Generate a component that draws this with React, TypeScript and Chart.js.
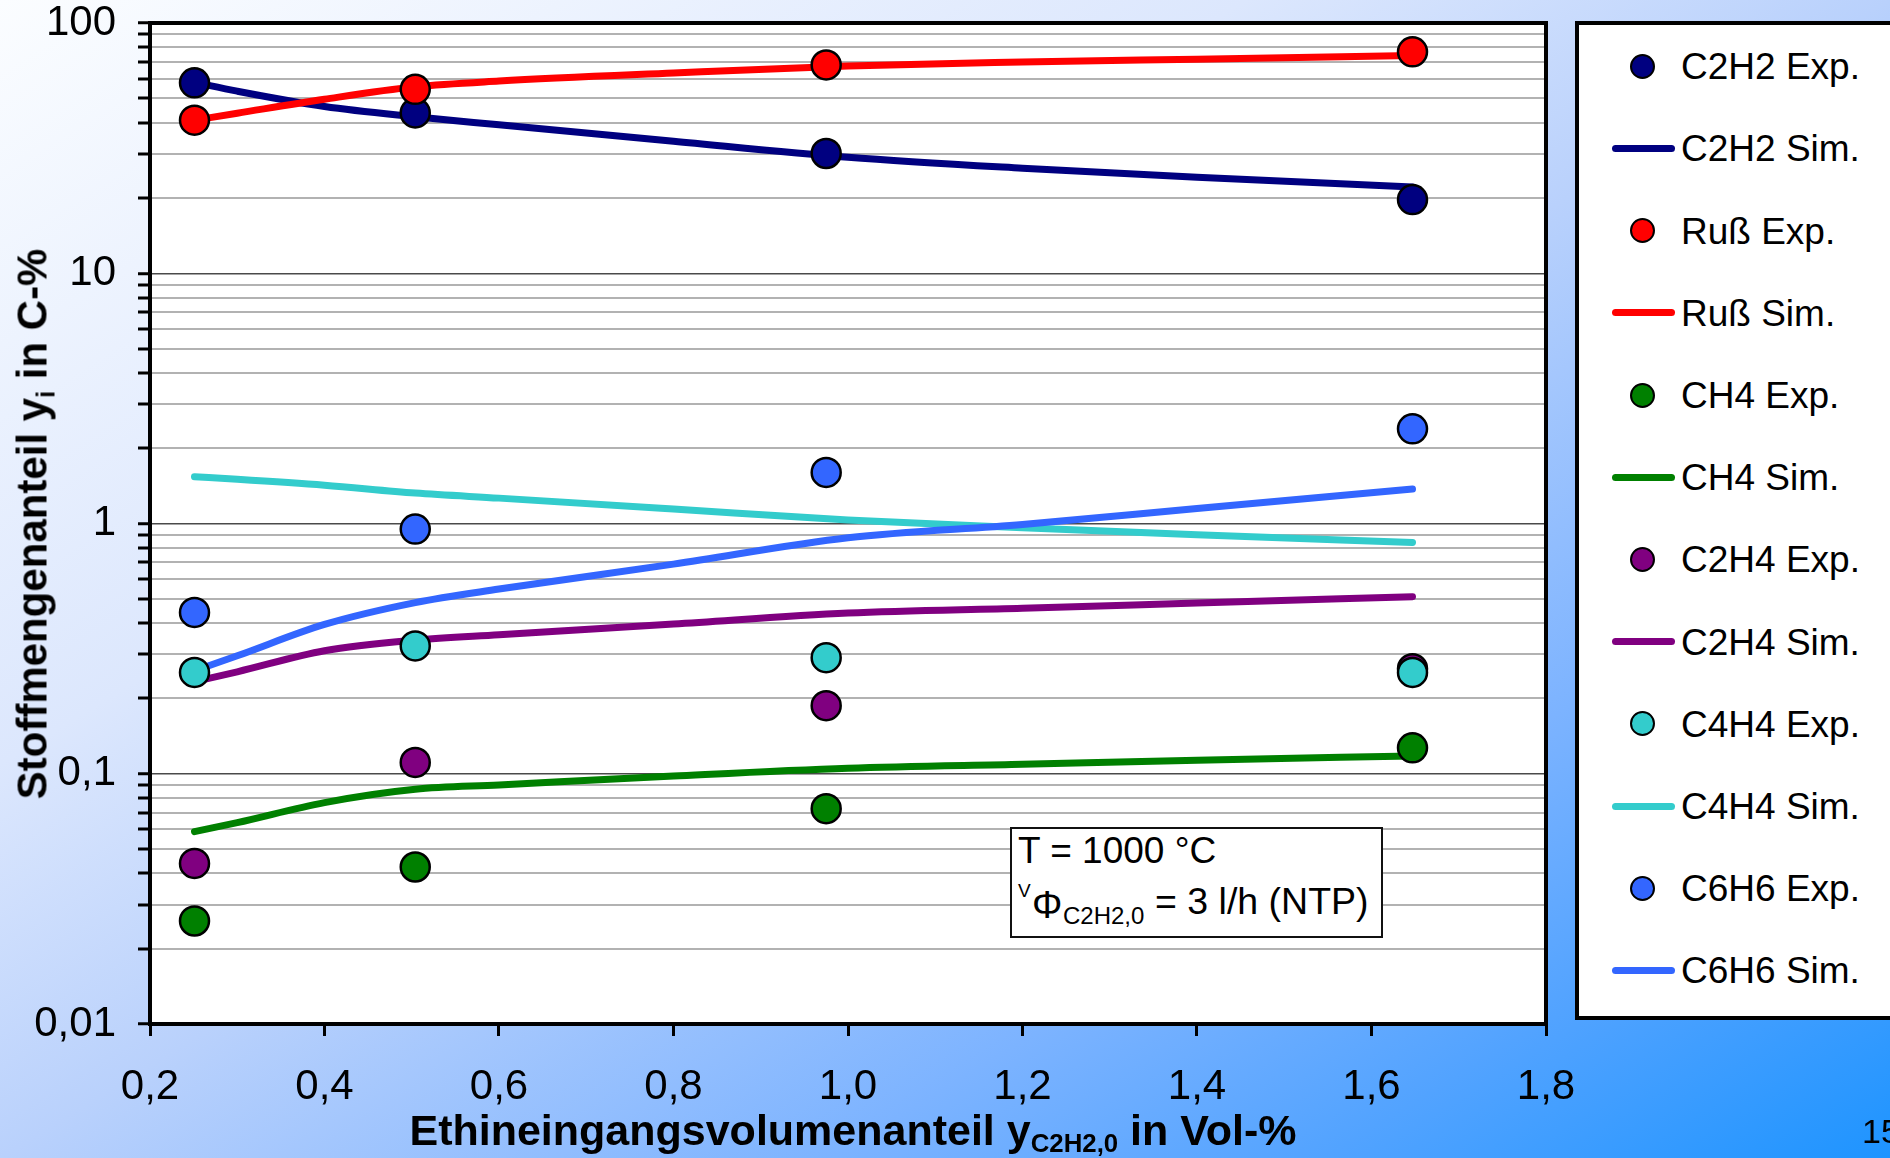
import React, { useEffect, useRef } from 'react';
import { Chart, registerables } from 'chart.js';

Chart.register(...registerables);

// ---------- data ----------
const expX = [0.251, 0.504, 0.975, 1.647];
const simX = [0.251, 0.3, 0.4, 0.504, 0.6, 0.8, 1.0, 1.2, 1.4, 1.647];

const c2h2Exp = [57.7, 43.7, 30.1, 19.7];
const c2h2Sim = [57.9, 53.4, 46.4, 42.2, 39.2, 33.7, 29.1, 26.3, 24.2, 22.1];
const russExp = [40.9, 54.3, 68.0, 76.7];
const russSim = [40.9, 43.6, 49.6, 55.6, 58.6, 63.1, 67.3, 69.8, 71.7, 74.1];
const ch4Exp = [0.0258, 0.0424, 0.0725, 0.127];
const ch4Sim = [0.0587, 0.0638, 0.0767, 0.0867, 0.0902, 0.098, 0.1053, 0.1092, 0.1133, 0.1178];
const c2h4Exp = [0.0438, 0.111, 0.187, 0.263];
const c2h4Sim = [0.2336, 0.2555, 0.3101, 0.342, 0.3594, 0.3966, 0.439, 0.4588, 0.4812, 0.5102];
const c4h4Exp = [0.254, 0.324, 0.291, 0.254];
const c4h4Sim = [1.538, 1.503, 1.423, 1.323, 1.263, 1.143, 1.033, 0.962, 0.902, 0.840];
const c6h6Exp = [0.441, 0.950, 1.60, 2.39];
const c6h6Sim = [0.258, 0.296, 0.395, 0.483, 0.547, 0.688, 0.877, 0.991, 1.148, 1.374];

const seriesNames = ['C2H2', 'Ruß', 'CH4', 'C2H4', 'C4H4', 'C6H6'];
const expSeries = [c2h2Exp, russExp, ch4Exp, c2h4Exp, c4h4Exp, c6h6Exp];
const simSeries = [c2h2Sim, russSim, ch4Sim, c2h4Sim, c4h4Sim, c6h6Sim];
const seriesColors = ['#000080', '#ff0000', '#008000', '#800080', '#33cccc', '#3366ff'];

const xTicks = [0.2, 0.4, 0.6, 0.8, 1.0, 1.2, 1.4, 1.6, 1.8];
const xTickLabels = ['0,2', '0,4', '0,6', '0,8', '1,0', '1,2', '1,4', '1,6', '1,8'];
const yMajorTicks = [0.01, 0.1, 1, 10, 100];
const yMajorLabels = ['0,01', '0,1', '1', '10', '100'];
const yMinorMultipliers = [2, 3, 4, 5, 6, 7, 8, 9];

const FONT = '"Liberation Sans", Arial, Helvetica, sans-serif';

// ---------- derived structures for the library ----------
const yGridTicks: number[] = [];
yMajorTicks.forEach((d, i) => {
  yGridTicks.push(d);
  if (i < yMajorTicks.length - 1) yMinorMultipliers.forEach((m) => yGridTicks.push(d * m));
});

type LegendEntry = { label: string; color: string; kind: 'exp' | 'sim' };
const legendEntries: LegendEntry[] = [];
const datasets: any[] = [];
seriesNames.forEach((name, s) => {
  const color = seriesColors[s];
  const expIdx = s * 2;
  const simIdx = s * 2 + 1;
  legendEntries.push({ label: `${name} Exp.`, color, kind: 'exp' });
  legendEntries.push({ label: `${name} Sim.`, color, kind: 'sim' });
  datasets.push({
    label: `${name} Exp.`,
    data: expX.map((x, i) => ({ x, y: expSeries[s][i] })),
    showLine: false,
    pointRadius: 14.5,
    pointBorderWidth: 2.5,
    pointBorderColor: '#000000',
    pointBackgroundColor: color,
    backgroundColor: color,
    borderColor: '#000000',
    order: 100 - expIdx,
  });
  datasets.push({
    label: `${name} Sim.`,
    data: simX.map((x, i) => ({ x, y: simSeries[s][i] })),
    showLine: true,
    pointRadius: 0,
    borderWidth: 7,
    borderColor: color,
    backgroundColor: color,
    borderCapStyle: 'round',
    borderJoinStyle: 'round',
    cubicInterpolationMode: 'monotone',
    order: 200 - simIdx,
  });
});

const plotFrame = {
  id: 'plotFrame',
  beforeDraw(chart: any) {
    const { ctx, chartArea: a } = chart;
    ctx.save();
    ctx.fillStyle = '#ffffff';
    ctx.fillRect(a.left, a.top, a.right - a.left, a.bottom - a.top);
    ctx.restore();
  },
  afterDraw(chart: any) {
    const { ctx, chartArea: a } = chart;
    ctx.save();
    ctx.strokeStyle = '#000000';
    ctx.lineWidth = 4;
    ctx.lineJoin = 'miter';
    ctx.beginPath();
    ctx.moveTo(a.left - 2, a.top);
    ctx.lineTo(a.right, a.top);
    ctx.lineTo(a.right, a.bottom + 2);
    ctx.stroke();
    ctx.restore();
  },
};

function ChartCanvas() {
  const ref = useRef<HTMLCanvasElement | null>(null);
  useEffect(() => {
    if (!ref.current) return;
    const chart = new Chart(ref.current, {
      type: 'scatter',
      data: { datasets },
      options: {
        responsive: false,
        maintainAspectRatio: false,
        devicePixelRatio: 1,
        animation: false,
        events: [],
        layout: { padding: { left: 0, top: 23, right: 344, bottom: 0 } },
        plugins: {
          legend: { display: false },
          tooltip: { enabled: false },
        },
        scales: {
          x: {
            type: 'linear',
            min: 0.2,
            max: 1.8,
            afterBuildTicks: (scale: any) => {
              scale.ticks = xTicks.map((v) => ({ value: v }));
            },
            afterFit: (scale: any) => {
              scale.height = 134;
              scale.paddingLeft = 0;
              scale.paddingRight = 0;
            },
            ticks: {
              autoSkip: false,
              maxRotation: 0,
              color: '#000000',
              padding: 30,
              font: { family: FONT, size: 42, lineHeight: 1 },
              callback: (_v: any, i: number) => xTickLabels[i],
            },
            grid: {
              drawOnChartArea: false,
              drawTicks: true,
              tickLength: 12,
              tickColor: '#000000',
              tickWidth: 3,
            },
            border: { color: '#000000', width: 4 },
          },
          y: {
            type: 'logarithmic',
            min: 0.01,
            max: 100,
            afterBuildTicks: (scale: any) => {
              scale.ticks = yGridTicks.map((v) => ({ value: v, major: yMajorTicks.includes(v) }));
            },
            afterFit: (scale: any) => {
              scale.width = 150;
              scale.paddingTop = 0;
              scale.paddingBottom = 0;
            },
            ticks: {
              autoSkip: false,
              color: '#000000',
              padding: 22,
              font: { family: FONT, size: 42, lineHeight: 1 },
              callback: (v: any) => {
                const k = yMajorTicks.indexOf(v);
                return k >= 0 ? yMajorLabels[k] : '';
              },
            },
            grid: {
              color: (ctx: any) => (yMajorTicks.includes(ctx.tick && ctx.tick.value) ? '#4a4a4a' : '#b2b2b2'),
              lineWidth: (ctx: any) => (yMajorTicks.includes(ctx.tick && ctx.tick.value) ? 1.5 : 2),
              drawTicks: true,
              tickLength: 12,
              tickColor: '#000000',
              tickWidth: 3,
            },
            border: { color: '#000000', width: 4 },
          },
        },
      },
      plugins: [plotFrame],
    } as any);
    return () => chart.destroy();
  }, []);
  return (
    <canvas
      ref={ref}
      width={1890}
      height={1158}
      style={{ position: 'absolute', left: 0, top: 0, width: 1890, height: 1158, display: 'block' }}
    />
  );
}

function Txt(props: { x: number; baseline: number; size: number; bold?: boolean; children: any; style?: any }) {
  const { x, baseline, size, bold, children, style } = props;
  return (
    <div
      style={{
        position: 'absolute',
        left: x,
        top: baseline - 0.8465 * size,
        fontFamily: FONT,
        fontSize: size,
        lineHeight: `${size}px`,
        fontWeight: bold ? 700 : 400,
        whiteSpace: 'nowrap',
        color: '#000',
        ...style,
      }}
    >
      {children}
    </div>
  );
}

export default function App() {
  const legendTop = 66.3;
  const legendStep = 82.2;
  return (
    <div
      style={{
        position: 'absolute',
        left: 0,
        top: 0,
        width: 1890,
        height: 1158,
        overflow: 'hidden',
        background:
          'linear-gradient(to bottom right, #fbfdff 0%, #dce7fd 33%, #b9d1fc 50%, #7cb3ff 72%, #52a3ff 85%, #1e94ff 100%)',
      }}
    >
      <ChartCanvas />

      {/* Y axis title */}
      <div
        style={{
          position: 'absolute',
          left: 35,
          top: 524,
          transform: 'translate(-50%, -50%) rotate(-90deg)',
          fontFamily: FONT,
          fontSize: 42,
          lineHeight: '42px',
          fontWeight: 700,
          whiteSpace: 'nowrap',
          color: '#000',
        }}
      >
        Stoffmengenanteil y
        <span style={{ fontSize: '0.6em', position: 'relative', top: '0.3em' }}>i</span> in C-%
      </div>

      {/* X axis title */}
      <div
        style={{
          position: 'absolute',
          left: 853,
          top: 1145 - 0.8465 * 43,
          transform: 'translateX(-50%)',
          fontFamily: FONT,
          fontSize: 43,
          lineHeight: '43px',
          fontWeight: 700,
          whiteSpace: 'nowrap',
          color: '#000',
        }}
      >
        Ethineingangsvolumenanteil y
        <span style={{ fontSize: '0.6em', position: 'relative', top: '7px' }}>C2H2,0</span> in Vol-%
      </div>

      {/* Annotation box */}
      <div
        style={{
          position: 'absolute',
          left: 1010,
          top: 827,
          width: 373,
          height: 111,
          boxSizing: 'border-box',
          border: '2px solid #111',
          background: '#ffffff',
        }}
      />
      <Txt x={1018} baseline={863.5} size={37}>T = 1000 °C</Txt>
      <Txt x={1018} baseline={897} size={19}>V</Txt>
      <Txt x={1032} baseline={918} size={38}>Φ</Txt>
      <Txt x={1063} baseline={924} size={24}>C2H2,0</Txt>
      <Txt x={1155} baseline={915} size={37.5}>= 3 l/h (NTP)</Txt>

      {/* Legend */}
      <div
        style={{
          position: 'absolute',
          left: 1575,
          top: 21,
          width: 420,
          height: 999,
          boxSizing: 'border-box',
          border: '4px solid #000',
          background: '#ffffff',
        }}
      />
      {legendEntries.map((e, i) => {
        const cy = legendTop + legendStep * i;
        return (
          <React.Fragment key={e.label}>
            {e.kind === 'exp' ? (
              <div
                style={{
                  position: 'absolute',
                  left: 1642 - 12.5,
                  top: cy - 12.5,
                  width: 25,
                  height: 25,
                  boxSizing: 'border-box',
                  borderRadius: '50%',
                  border: '2.5px solid #000',
                  background: e.color,
                }}
              />
            ) : (
              <div
                style={{
                  position: 'absolute',
                  left: 1612,
                  top: cy - 3.5,
                  width: 63,
                  height: 7,
                  borderRadius: 3.5,
                  background: e.color,
                }}
              />
            )}
            <Txt x={1681} baseline={cy + 13.2} size={37}>
              {e.label}
            </Txt>
          </React.Fragment>
        );
      })}

      {/* page number */}
      <Txt x={1862} baseline={1143} size={34}>15</Txt>
    </div>
  );
}
